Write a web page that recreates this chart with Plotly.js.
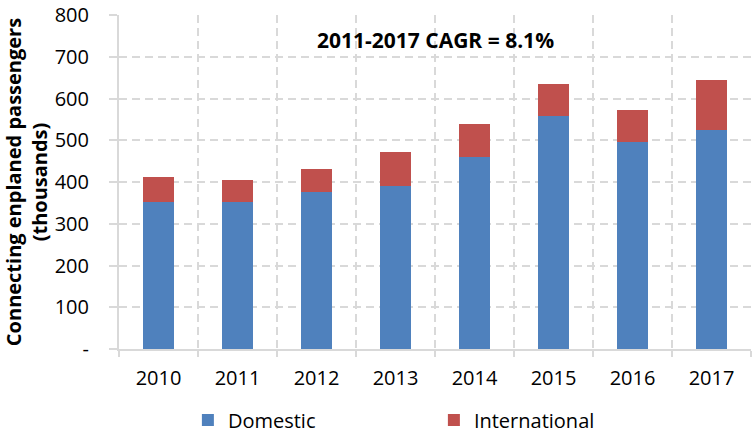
<!DOCTYPE html>
<html>
<head>
<meta charset="utf-8">
<script src="https://cdn.plot.ly/plotly-3.0.1.min.js"></script>
<style>html,body{margin:0;padding:0;background:#fff;}#chart{width:756px;height:433px;}</style>
</head>
<body>
<div id="chart"></div>
<script>
const years = ["2010","2011","2012","2013","2014","2015","2016","2017"];
const domestic = [353, 353, 375, 390, 459, 558, 497, 524];
const international = [60, 51, 55, 83, 79, 76, 75, 120];
const yTickVals = [0,100,200,300,400,500,600,700,800];
const yTickText = ["-","100","200","300","400","500","600","700","800"];
const seriesNames = ["Domestic","International"];
const annotationText = "2011-2017 CAGR = 8.1%";

const FONT = "Open Sans, Liberation Sans, sans-serif";
const GRID = "#D9D9D9";

const data = [
  {type:"bar", x: years, y: domestic, name: seriesNames[0], marker:{color:"#4F81BD"}},
  {type:"bar", x: years, y: international, name: seriesNames[1], marker:{color:"#C0504D"}}
];

const layout = {
  width: 756, height: 433,
  margin: {l:119, r:5, t:15, b:84, autoexpand:false},
  paper_bgcolor: "#fff", plot_bgcolor: "#fff",
  barmode: "stack", bargap: 0.6,
  font: {family: FONT, size: 20, color: "#000"},
  showlegend: true,
  legend: {orientation:"h", x:0.109, xanchor:"left", y:-0.2126, yanchor:"middle",
           entrywidth: 201, entrywidthmode:"pixels", traceorder:"normal",
           font:{family:FONT, size:20, color:"#000"}},
  xaxis: {type:"category", tickson:"boundaries", showgrid:true, gridcolor:GRID, gridwidth:2,
          griddash:"8px,5px", showline:true, linecolor:GRID, linewidth:2,
          ticks:"outside", ticklen:6, tickcolor:GRID, tickwidth:2,
          tickfont:{family:FONT, size:20, color:"#000"}, ticklabelstandoff: 10},
  yaxis: {range:[0,800], tickvals: yTickVals, ticktext: yTickText, showgrid:true, gridcolor:GRID, gridwidth:2,
          griddash:"8px,5px", showline:true, linecolor:GRID, linewidth:2, zeroline:false,
          ticks:"outside", ticklen:8, tickcolor:GRID, tickwidth:2,
          tickfont:{family:FONT, size:20, color:"#000"}, ticklabelstandoff: 16,
          title:{text:"Connecting enplaned passengers<br>(thousands)", standoff:6,
                 font:{family:FONT, size:20, color:"#000", weight:"bold"}}},
  annotations: [{text: annotationText, xref:"paper", yref:"paper", x:0.5, y:0.925,
                 xanchor:"center", yanchor:"middle", showarrow:false,
                 font:{family:FONT, size:21, color:"#000", weight:"bold"}}]
};

Plotly.newPlot("chart", data, layout, {displayModeBar:false, staticPlot:true});
</script>
</body>
</html>
